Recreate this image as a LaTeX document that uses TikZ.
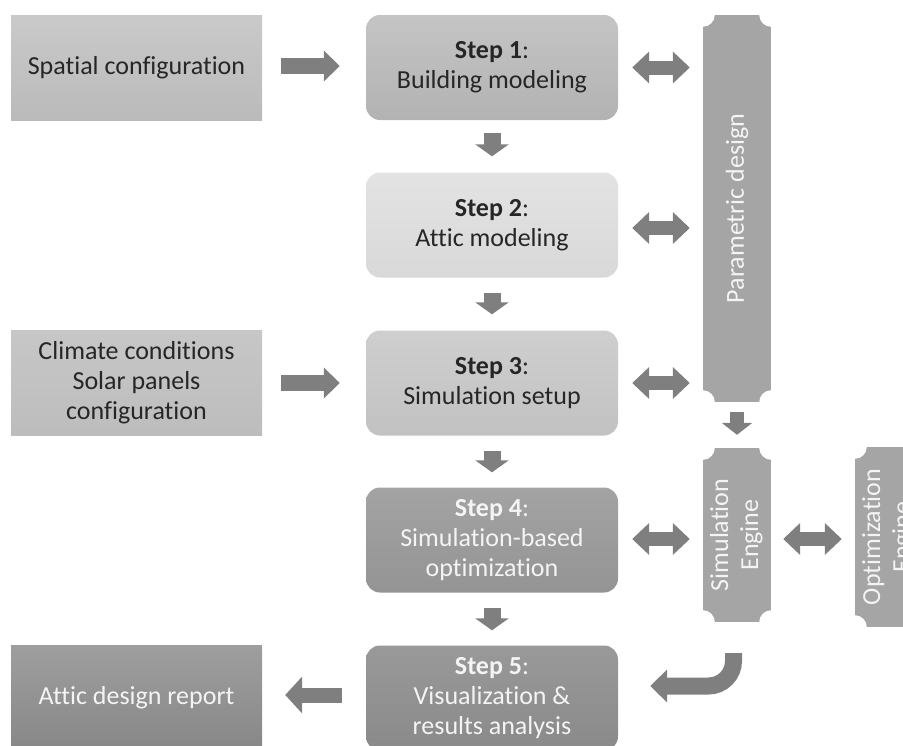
\documentclass[tikz,border=0pt]{standalone}
\usepackage{fontspec}
\setmainfont{Carlito}[Ligatures={NoCommon}]
\usetikzlibrary{arrows.meta,calc}
\definecolor{arrowgray}{HTML}{7F7F7F}
\definecolor{plategray}{HTML}{A5A5A5}
\definecolor{darktext}{HTML}{262626}
\definecolor{lighttext}{HTML}{F4F4F4}
\begin{document}
\begin{tikzpicture}[x=1pt,y=-1pt,
  box/.style={minimum width=251pt,minimum height=105pt,inner sep=0pt,align=center,
    font=\fontsize{26}{30}\selectfont},
  stepbox/.style={box,minimum width=252pt,rounded corners=14pt},
  darkt/.style={text=darktext},
  lightt/.style={text=lighttext},
  plate/.style={fill=plategray,minimum width=68pt,inner sep=0pt,text=lighttext,
    font=\fontsize{26}{30}\selectfont},
  rarrow/.style={draw=arrowgray,line width=16pt,-{Triangle[length=16pt,width=30pt]}},
  larrow/.style={draw=arrowgray,line width=15pt,-{Triangle[length=17pt,width=36pt]}},
  darrow/.style={draw=arrowgray,line width=17pt,-{Triangle[length=12pt,width=33pt]}},
  dblarrow/.style={draw=arrowgray,line width=14pt,{Triangle[length=17pt,width=31pt]}-{Triangle[length=17pt,width=31pt]}},
  curvearrow/.style={draw=arrowgray,line width=17pt,rounded corners=25pt,-{Triangle[length=17pt,width=32pt]}},
  notch/.style={fill=white}
]
\useasboundingbox (0,0) rectangle (903,745);
\clip (0,0) rectangle (903,745);

% left input/output boxes
\node[box,darkt,top color=black!21,bottom color=black!27] (spatial) at (136.5,67.5) {Spatial configuration};
\node[box,darkt,top color=black!22,bottom color=black!26] (climate) at (136.5,383) {Climate conditions\\Solar panels\\configuration};
\node[box,lightt,top color=black!38,bottom color=black!47] (report) at (136.5,698) {Attic design report};

% steps
\node[stepbox,darkt,top color=black!23,bottom color=black!30] (s1) at (492,67.5) {\textbf{Step 1}:\\Building modeling};
\node[stepbox,darkt,top color=black!11,bottom color=black!15] (s2) at (492,225) {\textbf{Step 2}:\\Attic modeling};
\node[stepbox,darkt,top color=black!19,bottom color=black!24] (s3) at (492,383) {\textbf{Step 3}:\\Simulation setup};
\node[stepbox,lightt,top color=black!36,bottom color=black!42] (s4) at (492,540) {\textbf{Step 4}:\\Simulation-based\\optimization};
\node[stepbox,lightt,top color=black!40,bottom color=black!46] (s5) at (492,698) {\textbf{Step 5}:\\Visualization \&\\results analysis};

% vertical plates
\node[plate,minimum height=387pt] (param) at (737,208.5) {\rotatebox{90}{Parametric design}};
\node[plate,minimum height=174pt] (sim) at (737,535) {\rotatebox{90}{\begin{tabular}{@{}c@{}}Simulation\\Engine\end{tabular}}};
\node[plate,minimum height=180pt] (opt) at (889,537) {\rotatebox{90}{\begin{tabular}{@{}c@{}}Optimization\\Engine\end{tabular}}};
\foreach \n in {param,sim,opt}{
  \foreach \a in {north west,north east,south west,south east}{
    \fill[notch] (\n.\a) circle[radius=12pt];
  }
}

% horizontal arrows
\draw[rarrow,shorten <=19pt,shorten >=26pt] ([yshift=1.5pt]spatial.east) -- ([yshift=1.5pt]s1.west);
\draw[rarrow,shorten <=19pt,shorten >=26pt] (climate.east) -- (s3.west);
\draw[larrow,shorten <=24pt,shorten >=23pt] ([yshift=3pt]s5.west) -- ([yshift=3pt]report.east);

% vertical arrows between steps
\draw[darrow,shorten <=13pt,shorten >=16pt] (s1.south) -- (s2.north);
\draw[darrow,shorten <=15pt,shorten >=16pt] (s2.south) -- (s3.north);
\draw[darrow,shorten <=15pt,shorten >=15pt] (s3.south) -- (s4.north);
\draw[darrow,shorten <=15pt,shorten >=15pt] (s4.south) -- (s5.north);
\draw[darrow,line width=14pt,-{Triangle[length=12pt,width=30pt]},shorten <=10pt,shorten >=13pt] (param.south) -- (sim.north);

% double arrows
\draw[dblarrow,shorten <=14pt,shorten >=13pt] (s1.east) -- (s1.east -| param.west);
\draw[dblarrow,shorten <=14pt,shorten >=13pt] ([yshift=-3pt]s2.east) -- ([yshift=-3pt]s2.east -| param.west);
\draw[dblarrow,shorten <=14pt,shorten >=13pt] (s3.east) -- (s3.east -| param.west);
\draw[dblarrow,shorten <=14pt,shorten >=13pt] ([yshift=1pt]s4.east) -- ([yshift=1pt]s4.east -| sim.west);
\draw[dblarrow,shorten <=12pt,shorten >=13pt] ([yshift=1pt]s4.east -| sim.east) -- ([yshift=1pt]s4.east -| opt.west);

% curved return arrow
\coordinate (cstart) at ($(sim.south)+(-3.5,31)$);
\draw[curvearrow,shorten >=32pt] (cstart) |- ([yshift=12pt]s5.east);
\end{tikzpicture}
\end{document}
